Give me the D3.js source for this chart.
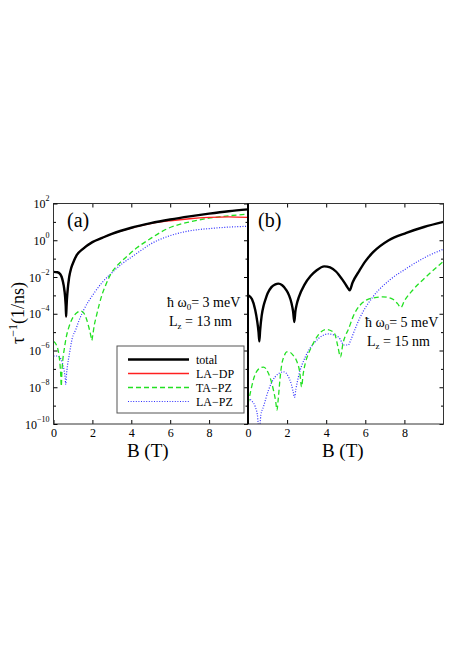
<!DOCTYPE html>
<html>
<head>
<meta charset="utf-8">
<script src="https://cdn.jsdelivr.net/npm/d3@7"></script>
<style>
  body { margin: 0; background: #fff; }
  text { font-family: "Liberation Serif", "Times New Roman", serif; fill: #000; }
</style>
</head>
<body>
<script>
// Data: [B (T), log10 of 1/tau in 1/ns]
// panel (a): hbar w0 = 3 meV, Lz = 13 nm
var aTotal = [[0,-1.72],[0.2,-1.74],[0.35,-1.85],[0.45,-2.1],[0.53,-2.5],[0.59,-3.0],[0.63,-3.6],[0.65,-4.15],[0.67,-3.6],[0.72,-2.8],[0.8,-2.05],[0.9,-1.55],[1.0,-1.25],[1.2,-0.8],[1.5,-0.48],[2,-0.1],[2.5,0.13],[3,0.35],[4,0.68],[5,0.93],[6,1.13],[7,1.3],[8,1.45],[9,1.58],[10,1.68]];
var aLADP  = [[0,-1.72],[0.2,-1.74],[0.35,-1.85],[0.45,-2.1],[0.53,-2.5],[0.59,-3.0],[0.63,-3.6],[0.65,-4.15],[0.67,-3.6],[0.72,-2.8],[0.8,-2.05],[0.9,-1.55],[1.0,-1.25],[1.2,-0.8],[1.5,-0.48],[2,-0.1],[2.5,0.13],[3,0.35],[4,0.66],[4.5,0.8],[5,0.91],[6,1.06],[7,1.17],[8,1.24],[9,1.27],[10,1.24]];
var aTAPZ  = [[0,-5.5],[0.15,-5.7],[0.25,-6.05],[0.33,-6.7],[0.37,-7.3],[0.4,-7.95],[0.43,-7.2],[0.48,-6.5],[0.55,-5.95],[0.65,-5.3],[0.8,-4.7],[1.0,-4.2],[1.2,-3.95],[1.4,-3.85],[1.55,-3.95],[1.7,-4.3],[1.82,-4.75],[1.92,-5.2],[1.97,-5.45],[2.02,-5.15],[2.1,-4.6],[2.2,-4.15],[2.35,-3.5],[2.5,-2.95],[2.7,-2.4],[2.96,-1.81],[3.3,-1.35],[3.7,-0.95],[4.3,-0.4],[5,0.1],[5.8,0.6],[7,1.0],[8,1.2],[9,1.33],[10,1.42]];
var aLAPZ  = [[0,-6.3],[0.2,-6.3],[0.3,-6.35],[0.45,-6.65],[0.55,-7.1],[0.6,-7.5],[0.63,-7.85],[0.66,-7.4],[0.72,-6.8],[0.8,-6.3],[0.96,-5.35],[1.15,-4.85],[1.3,-4.4],[1.55,-3.8],[2.07,-2.9],[2.5,-2.3],[2.96,-1.81],[3.5,-1.3],[4,-0.92],[4.4,-0.63],[5,-0.2],[5.8,0.18],[6.7,0.45],[8.4,0.67],[10,0.76]];

// panel (b): hbar w0 = 5 meV, Lz = 15 nm
var bTotal = [[0,-2.98],[0.2,-3.2],[0.37,-3.8],[0.47,-4.4],[0.54,-5.0],[0.58,-5.5],[0.62,-4.9],[0.7,-4.1],[0.8,-3.55],[0.9,-3.2],[1.0,-2.9],[1.2,-2.55],[1.4,-2.4],[1.55,-2.36],[1.75,-2.45],[1.95,-2.7],[2.1,-3.0],[2.22,-3.4],[2.31,-3.9],[2.37,-4.45],[2.42,-3.9],[2.5,-3.45],[2.6,-3.1],[2.9,-2.4],[3.2,-1.95],[3.5,-1.65],[3.9,-1.42],[4.2,-1.48],[4.5,-1.7],[4.8,-2.1],[5.05,-2.5],[5.2,-2.72],[5.35,-2.3],[5.7,-1.65],[6.0,-1.15],[6.4,-0.65],[7.2,0],[8.1,0.4],[9,0.72],[10,1.0]];
var bTAPZ  = [[0,-8.9],[0.1,-8.4],[0.3,-7.5],[0.55,-7.0],[0.79,-6.9],[1.05,-7.25],[1.3,-8.15],[1.42,-8.8],[1.48,-9.25],[1.55,-8.6],[1.65,-7.4],[1.72,-6.8],[1.85,-6.3],[1.98,-6.07],[2.15,-6.1],[2.3,-6.25],[2.5,-6.6],[2.65,-7.2],[2.74,-7.98],[2.82,-7.3],[2.93,-6.7],[3.1,-6.15],[3.25,-5.8],[3.59,-5.16],[4.0,-4.85],[4.3,-4.95],[4.44,-5.1],[4.6,-5.8],[4.73,-6.35],[4.86,-5.6],[5.0,-5.15],[5.12,-4.89],[5.37,-4.17],[6.05,-3.26],[6.5,-3.12],[6.9,-3.08],[7.4,-3.2],[7.65,-3.45],[7.82,-3.66],[8.0,-3.3],[8.42,-2.72],[9.1,-2.0],[9.87,-1.27],[10,-1.15]];
var bLAPZ  = [[0,-8.6],[0.2,-8.75],[0.37,-9.06],[0.48,-9.5],[0.57,-10.4],[0.66,-9.5],[0.79,-9.06],[1.05,-8.15],[1.39,-7.43],[1.82,-7.16],[2.07,-7.43],[2.22,-7.85],[2.32,-8.3],[2.38,-8.55],[2.45,-8.1],[2.58,-7.43],[2.93,-6.35],[3.44,-5.53],[4.11,-5.1],[4.62,-5.26],[4.8,-5.55],[4.88,-5.7],[5.13,-5.7],[5.25,-5.45],[5.39,-5.07],[5.71,-4.25],[6.39,-3.08],[7.24,-2.17],[8.1,-1.54],[8.95,-0.99],[9.97,-0.5]];

// ticks
var xTicks = [0, 2, 4, 6, 8];
var yMajorExp = [2, 0, -2, -4, -6, -8, -10];
var yMinorExp = [1, -1, -3, -5, -7, -9];

var legendNames = ["total", "LA\u2212DP", "TA\u2212PZ", "LA\u2212PZ"];

// Define SVG area dimensions
var svgWidth = 463;
var svgHeight = 656;
var plotTop = 203.5;
var plotBottom = 424;

var styles = {
  total: {stroke: "#000", width: 2.4, dash: null},
  ladp:  {stroke: "#ff2020", width: 1.3, dash: null},
  tapz:  {stroke: "#22e022", width: 1.3, dash: "5,3"},
  lapz:  {stroke: "#3030ff", width: 1.2, dash: "1,1.6"}
};

var panels = [
  {x0: 53.5, x1: 248, tag: "(a)", series: [["lapz", aLAPZ], ["tapz", aTAPZ], ["ladp", aLADP], ["total", aTotal]],
   note1: "3 meV", note2: "13 nm", nx: 167, ny: 306.5},
  {x0: 248, x1: 443.5, tag: "(b)", series: [["lapz", bLAPZ], ["tapz", bTAPZ], ["total", bTotal]],
   note1: "5 meV", note2: "15 nm", nx: 365, ny: 326.5}
];

var svg = d3.select("body")
  .append("svg")
  .attr("width", svgWidth)
  .attr("height", svgHeight);

var yScale = d3.scaleLog()
  .domain([1e-10, 1e2])
  .range([plotBottom, plotTop]);

panels.forEach(function(p, i) {
  var xScale = d3.scaleLinear().domain([0, 10]).range([p.x0, p.x1]);

  // clip for curves
  svg.append("clipPath").attr("id", "clip" + i)
    .append("rect")
    .attr("x", p.x0).attr("y", plotTop)
    .attr("width", p.x1 - p.x0).attr("height", plotBottom - plotTop);

  var line = d3.line()
    .x(d => xScale(d[0]))
    .y(d => yScale(Math.pow(10, d[1])))
    .curve(d3.curveMonotoneX);

  var curves = svg.append("g").attr("clip-path", "url(#clip" + i + ")");
  p.series.forEach(function(s) {
    var st = styles[s[0]];
    curves.append("path")
      .datum(s[1])
      .attr("d", line)
      .attr("fill", "none")
      .attr("stroke", st.stroke)
      .attr("stroke-width", st.width)
      .attr("stroke-dasharray", st.dash)
      .attr("stroke-linejoin", "round");
  });

  // bottom axis, ticks pointing in
  var bottomAxis = svg.append("g")
    .attr("transform", `translate(0, ${plotBottom})`)
    .call(d3.axisBottom(xScale).tickValues(xTicks).tickSize(-4).tickPadding(4).tickFormat(d3.format("d")));
  bottomAxis.select(".domain").remove();
  bottomAxis.selectAll("text").attr("font-size", 12).attr("font-family", "Liberation Serif");

  // top ticks
  var topAxis = svg.append("g")
    .attr("transform", `translate(0, ${plotTop})`)
    .call(d3.axisTop(xScale).tickValues(xTicks.slice(1)).tickSize(-4).tickFormat(""));
  topAxis.select(".domain").remove();

  // right ticks (pointing in)
  [[yMajorExp, 4], [yMinorExp, 2.5]].forEach(function(t) {
    var r = svg.append("g")
      .attr("transform", `translate(${p.x1}, 0)`)
      .call(d3.axisRight(yScale).tickValues(t[0].map(e => Math.pow(10, e))).tickSize(-t[1]).tickFormat(""));
    r.select(".domain").remove();
  });

  // frame
  svg.append("rect")
    .attr("x", p.x0).attr("y", plotTop)
    .attr("width", p.x1 - p.x0).attr("height", plotBottom - plotTop)
    .attr("fill", "none").attr("stroke", "#333").attr("stroke-width", 1);

  // x label
  svg.append("text")
    .attr("x", (p.x0 + p.x1) / 2 - 3)
    .attr("y", 456.5)
    .attr("text-anchor", "middle")
    .attr("font-size", 19)
    .text("B (T)");

  // panel tag
  svg.append("text")
    .attr("x", p.x0 + (i === 0 ? 13.5 : 10))
    .attr("y", 227)
    .attr("font-size", 20)
    .text(p.tag);

  // annotation
  var n1 = svg.append("text").attr("x", p.nx).attr("y", p.ny).attr("font-size", 14);
  n1.append("tspan").text("\u0127 \u03c9");
  n1.append("tspan").attr("font-size", 9).attr("dy", 3).text("0");
  n1.append("tspan").attr("dy", -3).text("= " + p.note1);
  var n2 = svg.append("text").attr("x", p.nx + 2).attr("y", p.ny + 19).attr("font-size", 14);
  n2.append("tspan").text("L");
  n2.append("tspan").attr("font-size", 9).attr("dy", 3).text("z");
  n2.append("tspan").attr("dy", -3).text(" = " + p.note2);
});

// left axis of panel (a)
var leftMinor = svg.append("g")
  .attr("transform", `translate(53.5, 0)`)
  .call(d3.axisLeft(yScale).tickValues(yMinorExp.map(e => Math.pow(10, e))).tickSize(-2.5).tickFormat(""));
leftMinor.select(".domain").remove();

var leftAxis = svg.append("g")
  .attr("transform", `translate(53.5, 0)`)
  .call(d3.axisLeft(yScale).tickValues(yMajorExp.map(e => Math.pow(10, e))).tickSize(-4).tickPadding(4).tickFormat(""));
leftAxis.select(".domain").remove();
leftAxis.selectAll(".tick").each(function(d) {
  var t = d3.select(this).select("text")
    .attr("x", -4)
    .attr("dy", "0.35em")
    .attr("font-size", 12)
    .attr("font-family", "Liberation Serif");
  t.append("tspan").text("10");
  t.append("tspan").attr("font-size", 8).attr("dy", "-0.9em").text(d3.format("d")(Math.round(Math.log10(d))).replace("-", "\u2212"));
});

// thick shared border between panels
svg.append("line")
  .attr("x1", 248).attr("x2", 248)
  .attr("y1", plotTop).attr("y2", plotBottom)
  .attr("stroke", "#000").attr("stroke-width", 2);

// y label
var ylab = svg.append("text")
  .attr("transform", `translate(24, 313) rotate(-90)`)
  .attr("text-anchor", "middle")
  .attr("font-size", 18);
ylab.append("tspan").text("\u03c4");
ylab.append("tspan").attr("font-size", 12).attr("dy", -7).text("\u22121");
ylab.append("tspan").attr("dy", 7).text("(1/ns)");

// legend
var legend = svg.append("g");
legend.append("rect")
  .attr("x", 117).attr("y", 346)
  .attr("width", 127).attr("height", 67)
  .attr("fill", "#fff").attr("stroke", "#555").attr("stroke-width", 1);
var legendKeys = ["total", "ladp", "tapz", "lapz"];
var legendY = d3.scalePoint().domain(legendKeys).range([359.5, 401.5]);
legendKeys.forEach(function(k, j) {
  var st = styles[k];
  legend.append("line")
    .attr("x1", 128).attr("x2", 189)
    .attr("y1", legendY(k)).attr("y2", legendY(k))
    .style("stroke", st.stroke)
    .attr("stroke-width", st.width)
    .attr("stroke-dasharray", st.dash);
  legend.append("text")
    .attr("x", 196)
    .attr("y", legendY(k) + 4)
    .attr("font-size", 12)
    .text(legendNames[j]);
});
</script>
</body>
</html>
